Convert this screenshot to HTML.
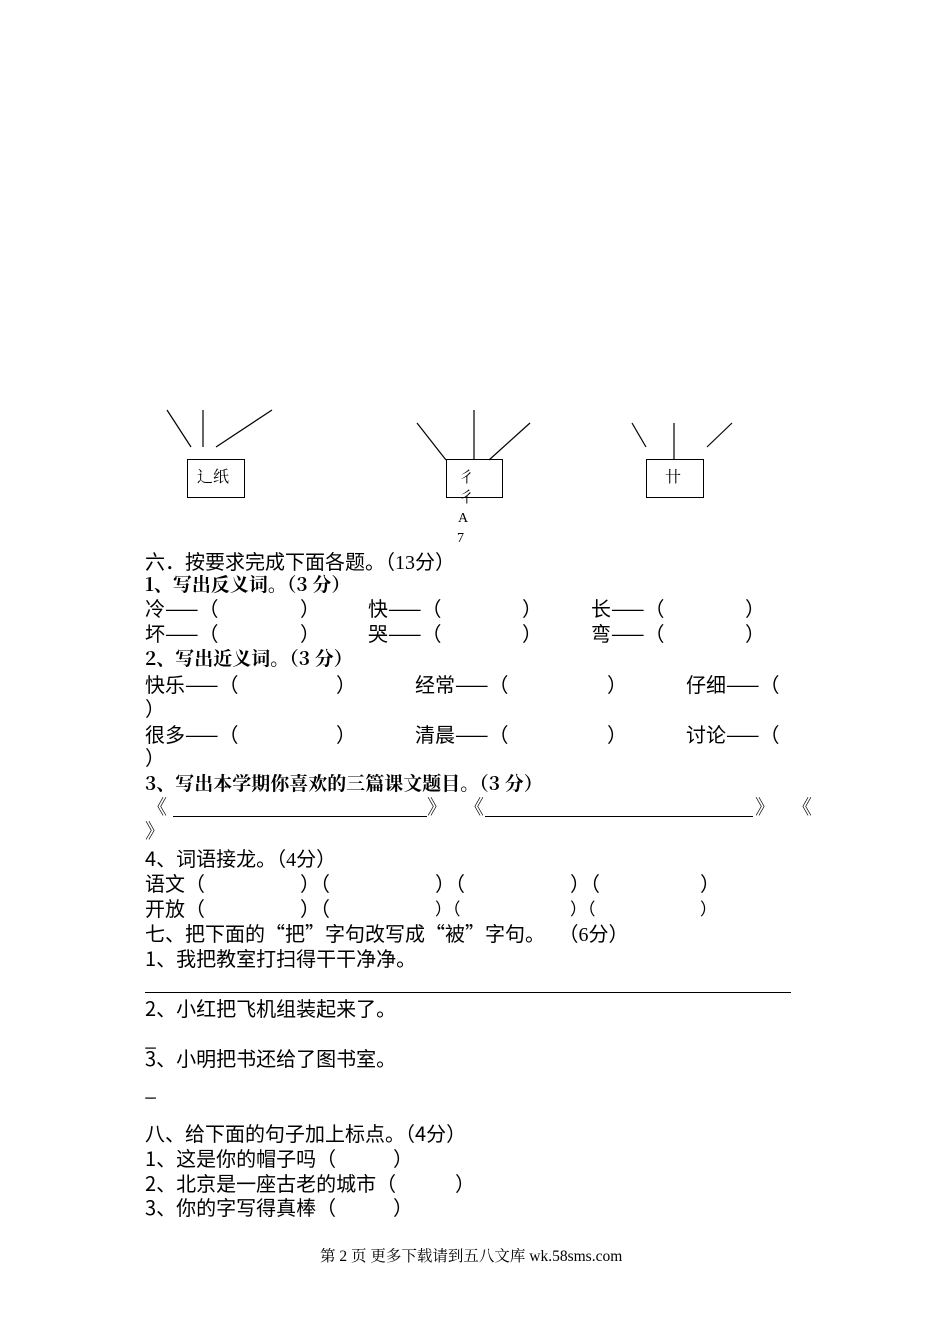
<!DOCTYPE html>
<html><head><meta charset="utf-8"><style>
body{margin:0;background:#fff;}
#p{position:relative;width:950px;height:1344px;overflow:hidden;font-family:"Noto Sans CJK SC","Liberation Sans",sans-serif;color:#000;}
.t{position:absolute;font-size:20px;line-height:24px;white-space:pre;}
.b{font-weight:bold;font-family:"Noto Serif CJK SC","Liberation Sans",serif;font-size:19px;}
.s{font-family:"Liberation Serif","Noto Serif CJK SC",serif;}
.box{position:absolute;border:1.3px solid #000;}
</style></head><body><div id="p">
<svg width="950" height="560" style="position:absolute;left:0;top:0" stroke="#000" stroke-width="1.2">
<line x1="167" y1="410" x2="191" y2="447"/><line x1="203" y1="410" x2="203" y2="447"/><line x1="272" y1="410" x2="216" y2="447"/>
<line x1="417" y1="423" x2="446" y2="460"/><line x1="474" y1="410" x2="474" y2="460"/><line x1="530" y1="423" x2="489" y2="460"/>
<line x1="632" y1="423" x2="646" y2="447"/><line x1="674" y1="423" x2="674" y2="460"/><line x1="732" y1="423" x2="707" y2="447"/>
</svg>
<div class="box" style="left:187px;top:459px;width:56px;height:37px"></div>
<div class="box" style="left:446px;top:459px;width:55px;height:37px"></div>
<div class="box" style="left:646px;top:459px;width:56px;height:37px"></div>
<div class="t s" style="left:197px;top:466px;font-size:16px">辶纸</div>
<div class="t s" style="left:665px;top:466px;font-size:16px">卄</div>
<div class="t s" style="left:459px;top:466px;font-size:15px">彳</div>
<div class="t s" style="left:459px;top:486px;font-size:15px">彳</div>
<div class="t s" style="left:458px;top:507px;font-size:14px">A</div>
<div class="t s" style="left:457px;top:527px;font-size:14px">7</div>

<div class="t" style="left:145px;top:549px">六．按要求完成下面各题。（<span class="s">13</span>分）</div>
<div class="t b" style="left:145px;top:572px">1、写出反义词。（3 分）</div>
<div class="t" style="left:145px;top:596px">冷——（</div><div class="t" style="left:300px;top:596px">）</div>
<div class="t" style="left:368px;top:596px">快——（</div><div class="t" style="left:522px;top:596px">）</div>
<div class="t" style="left:591px;top:596px">长——（</div><div class="t" style="left:745px;top:596px">）</div>
<div class="t" style="left:145px;top:621px">坏——（</div><div class="t" style="left:300px;top:621px">）</div>
<div class="t" style="left:368px;top:621px">哭——（</div><div class="t" style="left:522px;top:621px">）</div>
<div class="t" style="left:591px;top:621px">弯——（</div><div class="t" style="left:745px;top:621px">）</div>
<div class="t b" style="left:145px;top:646px">2、写出近义词。（3 分）</div>
<div class="t" style="left:145px;top:672px">快乐——（</div><div class="t" style="left:336px;top:672px">）</div>
<div class="t" style="left:415px;top:672px">经常——（</div><div class="t" style="left:607px;top:672px">）</div>
<div class="t" style="left:686px;top:672px">仔细——（</div>
<div class="t" style="left:145px;top:696px">）</div>
<div class="t" style="left:145px;top:722px">很多——（</div><div class="t" style="left:336px;top:722px">）</div>
<div class="t" style="left:415px;top:722px">清晨——（</div><div class="t" style="left:607px;top:722px">）</div>
<div class="t" style="left:686px;top:722px">讨论——（</div>
<div class="t" style="left:145px;top:745px">）</div>
<div class="t b" style="left:145px;top:771px">3、写出本学期你喜欢的三篇课文题目。（3 分）</div>
<div class="t s" style="left:147px;top:796px">《</div>
<div style="position:absolute;left:173px;top:816px;width:254px;border-top:1px solid #000"></div>
<div class="t s" style="left:427px;top:796px">》</div>
<div class="t s" style="left:464px;top:796px">《</div>
<div style="position:absolute;left:485px;top:816px;width:268px;border-top:1px solid #000"></div>
<div class="t s" style="left:755px;top:796px">》</div>
<div class="t s" style="left:792px;top:796px">《</div>
<div class="t s" style="left:145px;top:820px">》</div>
<div class="t" style="left:145px;top:846px">4、词语接龙。（<span class="s">4</span>分）</div>
<div class="t" style="left:145px;top:871px">语文（</div>
<div class="t" style="left:300px;top:871px">）（</div><div class="t" style="left:435px;top:871px">）（</div><div class="t" style="left:570px;top:871px">）（</div><div class="t" style="left:700px;top:871px">）</div>
<div class="t" style="left:145px;top:896px">开放（</div>
<div class="t" style="left:300px;top:896px">）（</div><div class="t" style="left:435px;top:896px;font-size:17px">）（</div><div class="t" style="left:570px;top:896px;font-size:17px">）（</div><div class="t" style="left:700px;top:896px;font-size:17px">）</div>
<div class="t" style="left:145px;top:921px">七、把下面的“把”字句改写成“被”字句。   （<span class="s">6</span>分）</div>
<div class="t" style="left:145px;top:946px">1、我把教室打扫得干干净净。</div>
<div style="position:absolute;left:145px;top:992px;width:646px;border-top:1.3px solid #000"></div>
<div class="t" style="left:145px;top:996px">2、小红把飞机组装起来了。</div>
<div class="t" style="left:145px;top:1026px">_</div>
<div class="t" style="left:145px;top:1046px">3、小明把书还给了图书室。</div>
<div class="t" style="left:145px;top:1076px">_</div>
<div class="t" style="left:145px;top:1121px">八、给下面的句子加上标点。（4分）</div>
<div class="t" style="left:145px;top:1146px">1、这是你的帽子吗（</div><div class="t" style="left:393px;top:1146px">）</div>
<div class="t" style="left:145px;top:1171px">2、北京是一座古老的城市（</div><div class="t" style="left:455px;top:1171px">）</div>
<div class="t" style="left:145px;top:1195px">3、你的字写得真棒（</div><div class="t" style="left:393px;top:1195px">）</div>
<div class="t s" style="left:320px;top:1245px;font-size:15.5px">第 2 页 更多下载请到五八文库 wk.58sms.com</div>
</div></body></html>
